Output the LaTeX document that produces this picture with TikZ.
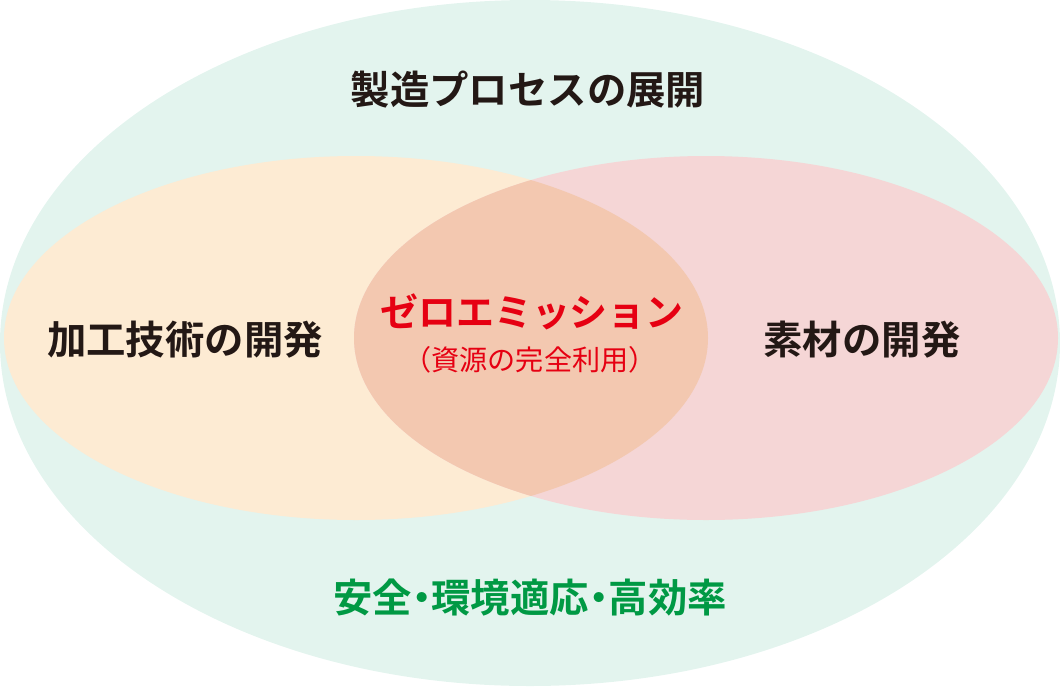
\documentclass[tikz,border=0pt]{standalone}
\usepackage{fontspec}
\newfontfamily\jp{Noto Sans CJK JP}[BoldFont={Noto Sans CJK JP Bold}]
\definecolor{mint}{HTML}{E3F4EE}
\definecolor{peach}{HTML}{FDEBD3}
\definecolor{rose}{HTML}{F5D6D6}
\definecolor{mixc}{HTML}{F3C8B0}
\definecolor{ink}{HTML}{231815}
\definecolor{zred}{HTML}{E60012}
\definecolor{zgreen}{HTML}{009944}
\newcommand{\ndot}{\hspace{-0.25em}・\hspace{-0.25em}}
\tikzset{
  label/.style={font=\jp\bfseries\fontsize{28}{32}\selectfont, text=ink, inner sep=0pt},
}
\begin{document}
\begin{tikzpicture}[x=0.025cm,y=-0.025cm]
  \useasboundingbox (0,0) rectangle (1060,686);
  \fill[mint] (530,343) ellipse [x radius=530, y radius=343];
  \fill[peach] (356,338) ellipse [x radius=352, y radius=182];
  \fill[rose] (706,338) ellipse [x radius=352, y radius=182];
  \begin{scope}
    \clip (356,338) ellipse [x radius=352, y radius=182];
    \fill[mixc] (706,338) ellipse [x radius=352, y radius=182];
  \end{scope}
  % labels
  \node[label] (process) at (528,90) {製造プロセスの展開};
  \node[label] (kakou) at (185,340) {加工技術の開発};
  \node[label] (sozai) at (862,340) {素材の開発};
  \node[label, text=zred, font=\jp\bfseries\fontsize{27}{30}\selectfont] (zero) at (532,312) {ゼロエミッション};
  \node[label, text=zred, font=\jp\fontsize{20}{24}\selectfont] (shigen) at (530,360) {（資源の完全利用）};
  \node[label, text=zgreen] (anzen) at (530,598) {安全\ndot 環境適応\ndot 高効率};
\end{tikzpicture}
\end{document}
